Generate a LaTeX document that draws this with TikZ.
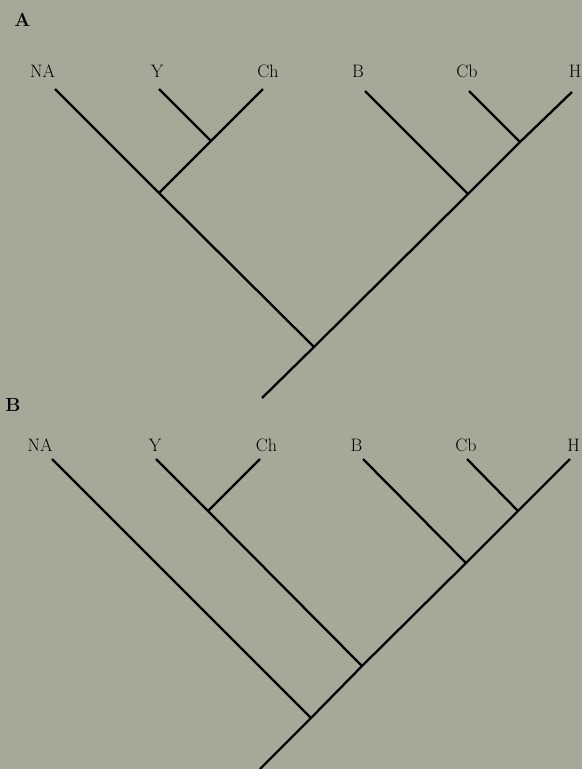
\documentclass[tikz,border=0pt]{standalone}
\usepackage{tikz}
\definecolor{plate}{RGB}{166,168,152}
\begin{document}
\begin{tikzpicture}[x=1pt,y=-1pt,
  branch/.style={line width=2.3pt},
  taxon/.style={inner sep=0pt,font=\fontsize{18}{20}\selectfont},
  panel/.style={inner sep=0pt,font=\bfseries\fontsize{19}{21}\selectfont}]
\fill[plate] (0,0) rectangle (582,769);
\useasboundingbox (0,0) rectangle (582,769);
% tree A
\node[panel] (pA) at (22.5,20) {A};
\node[taxon] (tNAa) at (42.5,71.5) {NA};
\node[taxon] (tYa) at (157,71.5) {Y};
\node[taxon] (tCha) at (268,71.5) {Ch};
\node[taxon] (tBa) at (358,71.5) {B};
\node[taxon] (tCba) at (467,71.5) {Cb};
\node[taxon] (tHa) at (575,71.5) {H};
\coordinate (NAa) at (55,89);
\coordinate (Ya) at (159,89);
\coordinate (Cha) at (263,89);
\coordinate (Ba) at (365,91);
\coordinate (Cba) at (469,91);
\coordinate (Ha) at (572,92);
\coordinate (YCha) at (211,141);
\coordinate (NYCa) at (159,193);
\coordinate (CbHa) at (520,142);
\coordinate (BCHa) at (468,194);
\coordinate (rootA) at (314,347);
\coordinate (stemA) at (262,398);
\draw[branch] (NAa) -- (NYCa) -- (rootA);
\draw[branch] (Ya) -- (YCha);
\draw[branch] (Cha) -- (YCha) -- (NYCa);
\draw[branch] (Ba) -- (BCHa);
\draw[branch] (Cba) -- (CbHa);
\draw[branch] (Ha) -- (CbHa) -- (BCHa) -- (rootA) -- (stemA);
% tree B
\node[panel] (pB) at (13,405) {B};
\node[taxon] (tNAb) at (40,445) {NA};
\node[taxon] (tYb) at (155,445) {Y};
\node[taxon] (tChb) at (266.5,445) {Ch};
\node[taxon] (tBb) at (356.5,445) {B};
\node[taxon] (tCbb) at (466,445) {Cb};
\node[taxon] (tHb) at (573.5,445) {H};
\coordinate (NAb) at (52,459);
\coordinate (Yb) at (156,459);
\coordinate (Chb) at (260,459);
\coordinate (Bb) at (363,459);
\coordinate (Cbb) at (467,459);
\coordinate (Hb) at (570,459);
\coordinate (YChb) at (208,511);
\coordinate (CbHb) at (518,511);
\coordinate (BCHb) at (466,563);
\coordinate (midB) at (362,666);
\coordinate (rootB) at (311,718);
\coordinate (stemB) at (260,769);
\draw[branch] (NAb) -- (rootB);
\draw[branch] (Yb) -- (YChb) -- (midB);
\draw[branch] (Chb) -- (YChb);
\draw[branch] (Bb) -- (BCHb);
\draw[branch] (Cbb) -- (CbHb);
\draw[branch] (Hb) -- (CbHb) -- (BCHb) -- (midB) -- (rootB) -- (stemB);
\end{tikzpicture}
\end{document}
